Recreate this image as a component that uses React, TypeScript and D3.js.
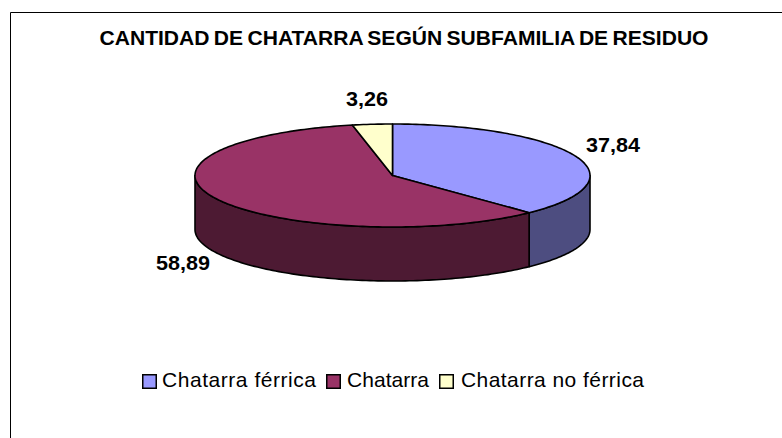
import React from "react";
import * as d3 from "d3";

const categories = ["Chatarra férrica", "Chatarra", "Chatarra no férrica"];
const values = [37.84, 58.89, 3.26];
const valueLabels = ["37,84", "58,89", "3,26"];
const topColors = ["#9999FF", "#993366", "#FFFFCC"];
const sideColors = ["#4D4D80", "#4D1A33", "#808066"];
const labelPositions: [number, number][] = [[613, 152], [183, 270], [367, 106]];
const labelWidths = [54, 54, 42];
const legendSwatchX = [142, 326, 439];
const legendTextX = [162, 347, 461];
const legendTextW = [154, 82, 183];

const W = 782, H = 438;
const cx = 392.5, cy = 175.5, rx = 197.5, ry = 51.5, depth = 54;
const FONT = "'Liberation Sans', Arial, sans-serif";

const px = (a: number) => cx + rx * Math.sin(a);
const py = (a: number) => cy - ry * Math.cos(a);

function arcPts(a0: number, a1: number, dy = 0): [number, number][] {
  const n = Math.max(2, Math.ceil(Math.abs(a1 - a0) / 0.02));
  const s = d3.scaleLinear().domain([0, n]).range([a0, a1]);
  return d3.range(n + 1).map((i) => [px(s(i)), py(s(i)) + dy] as [number, number]);
}
const line = d3.line();

export default function App() {
  const arcs = d3.pie<number>().sort(null)(values);
  const frontStart = Math.PI / 2, frontEnd = (3 * Math.PI) / 2;
  return (
    <svg width={W} height={H} style={{ position: "absolute", left: 0, top: 0, background: "#fff" }}>
      <path d={`M10.5,${H}V12.5H${W}`} fill="none" stroke="#000" strokeWidth={1} />
      <text x={404} y={45} textAnchor="middle" fontFamily={FONT} fontWeight={700} fontSize={21}
        wordSpacing={-1.5} textLength={609} lengthAdjust="spacingAndGlyphs">
        CANTIDAD DE CHATARRA SEGÚN SUBFAMILIA DE RESIDUO
      </text>
      {arcs.map((d, i) => {
        const a0 = Math.max(d.startAngle, frontStart), a1 = Math.min(d.endAngle, frontEnd);
        if (a1 <= a0) return null;
        const pts = [...arcPts(a0, a1), ...arcPts(a1, a0, depth)];
        return <path key={"s" + i} d={line(pts) + "Z"} fill={sideColors[i]} stroke="#000" strokeWidth={1.6} strokeLinejoin="round" />;
      })}
      {arcs.map((d, i) => (
        <path key={"t" + i} d={line([[cx, cy], ...arcPts(d.startAngle, d.endAngle)]) + "Z"}
          fill={topColors[i]} stroke="#000" strokeWidth={1.6} strokeLinejoin="round" />
      ))}
      {valueLabels.map((t, i) => (
        <text key={t} x={labelPositions[i][0]} y={labelPositions[i][1]} textAnchor="middle"
          fontFamily={FONT} fontWeight={700} fontSize={21}
          textLength={labelWidths[i]} lengthAdjust="spacingAndGlyphs">{t}</text>
      ))}
      {categories.map((c, i) => (
        <g key={c}>
          <rect x={legendSwatchX[i] + 0.75} y={374.75} width={13.5} height={13.5} fill={topColors[i]} stroke="#000" strokeWidth={1.5} />
          <text x={legendTextX[i]} y={387} fontFamily={FONT} fontSize={21}
            textLength={legendTextW[i]} lengthAdjust="spacing">{c}</text>
        </g>
      ))}
    </svg>
  );
}
